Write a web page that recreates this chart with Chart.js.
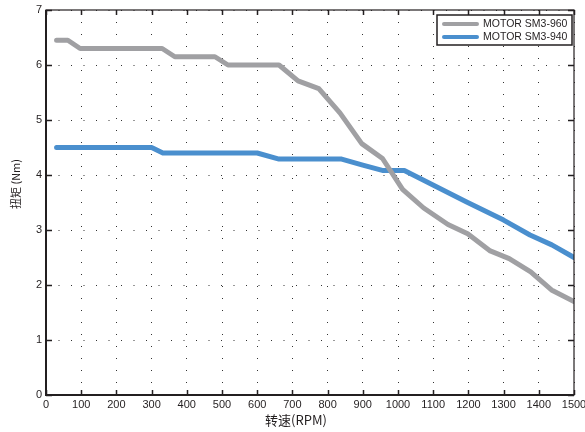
<!DOCTYPE html>
<html>
<head>
<meta charset="utf-8">
<script src="https://cdn.jsdelivr.net/npm/chart.js@4.4.1/dist/chart.umd.min.js"></script>
<style>
  html, body { margin:0; padding:0; background:#fff; }
  #wrap { width:585px; height:432px; }
</style>
</head>
<body>
<div id="wrap"><canvas id="torqueChart" width="585" height="432"></canvas></div>
<script>
// 数据 (RPM, Nm)
const rpm960 = [30, 62, 97, 330, 366, 480, 517, 662, 716, 775, 835, 897, 956, 1013, 1073, 1142, 1198, 1262, 1316, 1377, 1436, 1500];
const nm960  = [6.45, 6.45, 6.3, 6.3, 6.15, 6.15, 6.0, 6.0, 5.71, 5.57, 5.13, 4.57, 4.3, 3.74, 3.4, 3.1, 2.93, 2.62, 2.48, 2.24, 1.91, 1.7];
const rpm940 = [30, 300, 332, 600, 662, 840, 900, 958, 1018, 1195, 1300, 1375, 1437, 1500];
const nm940  = [4.5, 4.5, 4.4, 4.4, 4.29, 4.29, 4.18, 4.08, 4.08, 3.51, 3.18, 2.91, 2.73, 2.5];
const seriesNames = ['MOTOR SM3-960', 'MOTOR SM3-940'];
const seriesColors = ['#a0a0a3', '#4a8fce'];
const xTitle = '转速(RPM)';
const yTitle = '扭矩 (Nm)';

const narrow = "'Liberation Sans Narrow', 'Liberation Sans', Arial, sans-serif";
const cjkFont = "'Noto Sans CJK SC', 'Liberation Sans Narrow', sans-serif";

function toPoints(xs, ys){ return xs.map((x,i)=>({x:x, y:ys[i]})); }

// 边框、内向刻度、轴标题、图例
const framePlugin = {
  id: 'frame',
  afterDraw(chart){
    const c = chart.ctx, a = chart.chartArea;
    const xs = chart.scales.x, ys = chart.scales.y;
    c.save();
    c.strokeStyle = '#231f20';
    // ticks
    c.lineWidth = 1.5;
    c.beginPath();
    xs.ticks.forEach(t=>{
      const px = Math.round(xs.getPixelForValue(t.value)) + 0.5;
      c.moveTo(px, a.bottom); c.lineTo(px, a.bottom - 5);
      c.moveTo(px, a.top); c.lineTo(px, a.top + 5);
    });
    ys.ticks.forEach(t=>{
      const py = Math.round(ys.getPixelForValue(t.value)) + 0.5;
      c.moveTo(a.left, py); c.lineTo(a.left + 6, py);
      c.moveTo(a.right, py); c.lineTo(a.right - 6, py);
    });
    c.stroke();
    // frame
    c.lineWidth = 1.2;
    c.strokeRect(a.left, a.top, a.right - a.left, a.bottom - a.top);
    c.lineWidth = 2;
    c.beginPath();
    c.moveTo(a.left, a.top); c.lineTo(a.left, a.bottom); c.lineTo(a.right, a.bottom);
    c.stroke();

    // 轴标题
    c.fillStyle = '#231f20';
    c.font = '13px ' + cjkFont;
    c.textAlign = 'center'; c.textBaseline = 'middle';
    c.fillText(xTitle, 296, 420);
    c.save();
    c.translate(16, 184);
    c.rotate(-Math.PI/2);
    c.font = '11px ' + cjkFont;
    c.fillText(yTitle, 0, 0);
    c.restore();

    // 图例
    const bx = 437, by = 15, bw = 135, bh = 30;
    c.fillStyle = '#fff';
    c.fillRect(bx, by, bw, bh);
    c.lineWidth = 1.5;
    c.strokeRect(bx, by, bw, bh);
    c.lineCap = 'round';
    chart.data.datasets.forEach((ds,i)=>{
      const ly = by + 9 + i * 13;
      c.strokeStyle = ds.borderColor; c.lineWidth = 4;
      c.beginPath(); c.moveTo(bx + 7, ly); c.lineTo(bx + 40, ly); c.stroke();
      c.fillStyle = '#231f20';
      c.font = '10.5px ' + narrow;
      c.textAlign = 'left'; c.textBaseline = 'middle';
      c.fillText(ds.label, bx + 46, ly + 0.5);
    });
    c.restore();
  }
};

new Chart(document.getElementById('torqueChart').getContext('2d'), {
  type: 'line',
  data: {
    datasets: [
      { label: seriesNames[0], data: toPoints(rpm960, nm960), borderColor: seriesColors[0], borderWidth: 5,
        pointRadius: 0, borderCapStyle: 'round', borderJoinStyle: 'round', tension: 0, fill: false },
      { label: seriesNames[1], data: toPoints(rpm940, nm940), borderColor: seriesColors[1], borderWidth: 5,
        pointRadius: 0, borderCapStyle: 'round', borderJoinStyle: 'round', tension: 0, fill: false }
    ]
  },
  options: {
    responsive: false,
    animation: false,
    layout: { padding: { top: 10, right: 11, left: 0, bottom: 0 } },
    plugins: { legend: { display: false }, tooltip: { enabled: false } },
    scales: {
      x: {
        type: 'linear', min: 0, max: 1500,
        ticks: { stepSize: 100, color: '#231f20', font: { family: narrow, size: 11 }, maxRotation: 0, padding: 3,
                 callback: v => String(v) },
        grid: { color: '#333', lineWidth: 1, drawTicks: false },
        border: { display: false, dash: [1, 11] },
        afterFit(s){ s.height = 37; s.paddingLeft = 0; s.paddingRight = 0; }
      },
      y: {
        min: 0, max: 7,
        ticks: { stepSize: 1, color: '#231f20', font: { family: narrow, size: 11 }, padding: 4 },
        grid: { color: '#333', lineWidth: 1, drawTicks: false },
        border: { display: false, dash: [1, 11.5] },
        afterFit(s){ s.width = 46; s.paddingTop = 0; s.paddingBottom = 0; }
      }
    }
  },
  plugins: [framePlugin]
});
</script>
</body>
</html>
